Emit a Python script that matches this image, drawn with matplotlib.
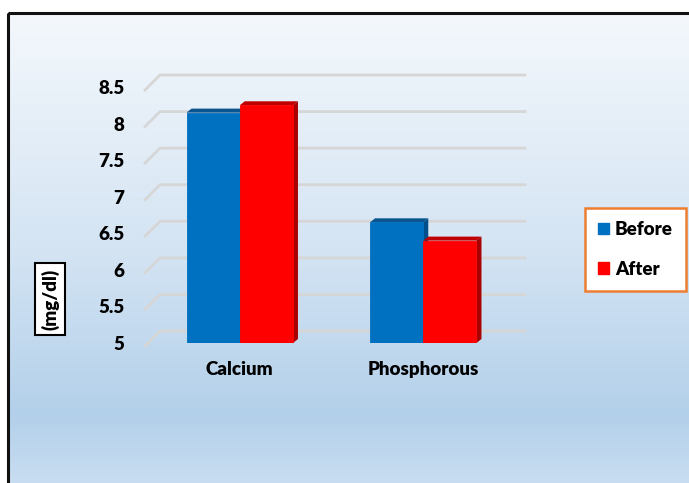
import numpy as np
import matplotlib
matplotlib.use("Agg")
import matplotlib.pyplot as plt
from matplotlib.patches import Polygon, Rectangle
from matplotlib.colors import to_rgb

plt.rcParams['font.family'] = ['Lato', 'DejaVu Sans']
plt.rcParams['font.weight'] = 'bold'

# data
categories = ["Calcium", "Phosphorous"]
before = [8.15, 6.65]
after = [8.25, 6.4]
series_names = ["Before", "After"]
y_ticks = [5, 5.5, 6, 6.5, 7, 7.5, 8, 8.5]

W, H = 689, 483
fig = plt.figure(figsize=(W / 100, H / 100), dpi=100)

# background panel with vertical gradient and black frame
bg = fig.add_axes([0, 0, 1, 1])
bg.set_xlim(0, W); bg.set_ylim(H, 0); bg.axis("off")
stops = [(13, "#f4f8fc"), (250, "#d4e4f3"), (415, "#b3d0ea"), (483, "#c8ddf1")]
rows = np.arange(13, H + 1)
cols = np.array([to_rgb(c) for _, c in stops])
grad = np.stack([np.interp(rows, [s for s, _ in stops], cols[:, k]) for k in range(3)], axis=1)
bg.imshow(grad[:, None, :], extent=[8, W, H, 13], aspect="auto", interpolation="bilinear")
bg.add_patch(Rectangle((8, 13), W, H, fill=False, edgecolor="#111111", lw=2.2))
bg.set_xlim(0, W); bg.set_ylim(H, 0)

# plot area (front plane)
x0, x1, yb, yt = 148, 515, 343, 87
ax = fig.add_axes([x0 / W, (H - yb) / H, (x1 - x0) / W, (yb - yt) / H])
ax.patch.set_alpha(0)
ax.set_xlim(-0.5, 1.5)
ax.set_ylim(5, 8.5)
for s in ax.spines.values():
    s.set_visible(False)

depth = 12  # back wall offset in pixels
T = ax.transData

# gridlines: diagonal from front plane to back wall, then along the wall
for v in y_ticks:
    fx, fy = T.transform((-0.5, v))
    rx, _ = T.transform((1.5, v))
    pts = [(fx - 3, fy - 3), (fx + depth, fy + depth), (rx + depth - 2, fy + depth)]
    ax.add_line(plt.Line2D(*zip(*pts), transform=None, color="#d6d6d6", lw=2,
                           clip_on=False, zorder=1))

# 3D bars
bw = 0.29
bd = (5, 4)  # bar depth offset in pixels
styles = [("#0070c0", "#0a5590", "#004f8a"), ("#ff0000", "#c00000", "#a80000")]
x = np.arange(len(categories))
for i, vals in enumerate([before, after]):
    front, top, side = styles[i]
    xs = x + (i - 0.5) * bw
    ax.bar(xs, np.array(vals) - 5, bw, bottom=5, color=front, edgecolor=front,
           lw=0.6, zorder=3 + i * 2, label=series_names[i])
    for xc, v in zip(xs, vals):
        lx, ty = T.transform((xc - bw / 2, v))
        rx, by = T.transform((xc + bw / 2, 5))
        top_poly = [(lx, ty), (rx, ty), (rx + bd[0], ty + bd[1]), (lx + bd[0], ty + bd[1])]
        side_poly = [(rx, by), (rx, ty), (rx + bd[0], ty + bd[1]), (rx + bd[0], by + bd[1])]
        for poly, c in [(top_poly, top), (side_poly, side)]:
            ax.add_patch(Polygon(poly, closed=True, transform=None, facecolor=c,
                                 edgecolor="none", zorder=2 + i * 2, clip_on=False))

fs = 13.5
fw = "heavy"
ax.set_yticks(y_ticks)
ax.set_yticklabels([f"{t:g}" for t in y_ticks], fontsize=fs, fontweight=fw)
ax.set_xticks(x)
ax.set_xticklabels(categories, fontsize=fs, fontweight=fw)
ax.tick_params(axis="y", length=0, pad=17)
ax.tick_params(axis="x", length=0, pad=13)

# axis title in a boxed label
fig.text(50 / W, 1 - 299 / H, "(mg/dl)", rotation=90, ha="center", va="center",
         fontsize=fs, fontweight=fw,
         bbox=dict(boxstyle="square,pad=0.3", facecolor="white", edgecolor="black", lw=1.5))

handles = [Rectangle((0, 0), 1, 1, color=styles[k][0]) for k in range(2)]
leg = fig.legend(handles, series_names, loc="upper left",
                 bbox_to_anchor=(585 / W, 1 - 208 / H), borderaxespad=0,
                 prop=dict(size=fs, weight=fw), handlelength=0.6, handleheight=0.6,
                 handletextpad=0.3, labelspacing=1.2, borderpad=0.7, fancybox=False,
                 framealpha=1)
leg.get_frame().set_edgecolor("#ed7d31")
leg.get_frame().set_linewidth(1.8)

fig.savefig("out.png", dpi=100)
